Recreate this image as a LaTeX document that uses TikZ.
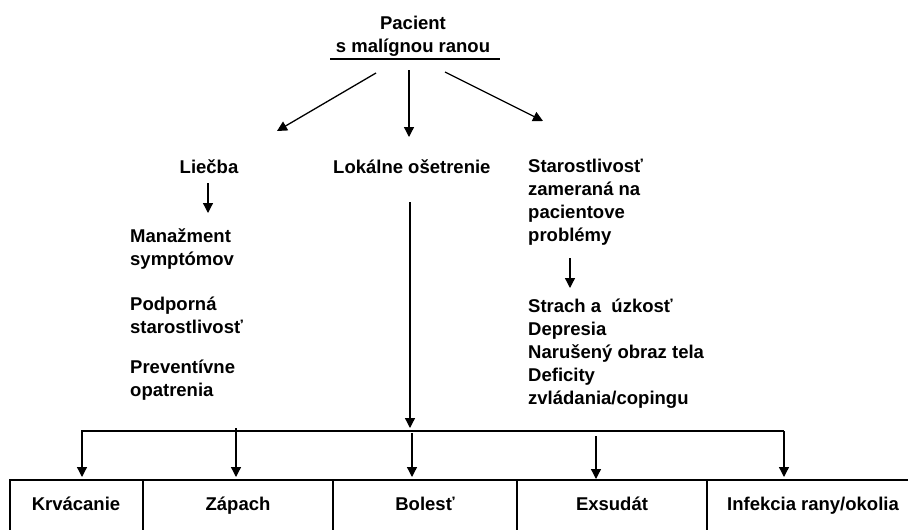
\documentclass[tikz,border=0pt]{standalone}
\usepackage{fontspec}
\setmainfont{Liberation Sans}
\usetikzlibrary{arrows.meta}
\tikzset{
  lbl/.style={inner sep=0pt, align=left, font=\bfseries\fontsize{18.5}{23}\selectfont},
  arr/.style={line width=1.3pt, -{Triangle[width=10pt,length=10pt]}},
  rule/.style={line width=1.3pt}
}
\begin{document}
\begin{tikzpicture}[x=1pt, y=-1pt]
    \useasboundingbox (0,0) rectangle (908,530);

    % patient (base = last line)
    \node[lbl, align=center, anchor=base] (pac) at (413,52) {Pacient\\s malígnou ranou};
    \coordinate (ul) at (330,59);
    \coordinate (ur) at (500,59);
    \draw[rule] (ul) -- (ur);

    % three branches
    \node[lbl, anchor=base] (liec) at (209,173) {Liečba};
    \node[lbl, anchor=base west] (lok) at (333,173) {Lokálne ošetrenie};
    \node[lbl, anchor=base west] (star) at (528,241) {Starostlivosť\\zameraná na\\pacientove\\problémy};

    \coordinate (s1) at (376,73);  \coordinate (e1) at (277,131);
    \coordinate (s2) at (409,70);  \coordinate (e2) at (409,137);
    \coordinate (s3) at (445,72);  \coordinate (e3) at (543,121);
    \draw[arr] (s1) -- (e1);
    \draw[arr] (s2) -- (e2);
    \draw[arr] (s3) -- (e3);

    % treatment
    \node[lbl, anchor=base west] (man) at (130,265) {Manažment\\symptómov};
    \node[lbl, anchor=base west] (pod) at (130,333) {Podporná\\starostlivosť};
    \node[lbl, anchor=base west] (prev) at (130,396) {Preventívne\\opatrenia};
    \coordinate (ls) at (208,183);  \coordinate (le) at (208,213);
    \draw[arr] (ls) -- (le);

    % patient problems
    \node[lbl, anchor=base west] (prob) at (528,404) {Strach a~ úzkosť\\Depresia\\Narušený obraz tela\\Deficity\\zvládania/copingu};
    \coordinate (ss) at (570,258);  \coordinate (se) at (570,288);
    \draw[arr] (ss) -- (se);

    % local care
    \coordinate (os) at (410,202);  \coordinate (oe) at (410,428);
    \draw[arr] (os) -- (oe);

    % distribution bar
    \coordinate (bl) at (82,431);
    \coordinate (br) at (784,431);
    \coordinate (t1) at (82,477);
    \coordinate (z0) at (236,428);  \coordinate (t2) at (236,477);
    \coordinate (b0) at (412,433);  \coordinate (t3) at (412,477);
    \coordinate (x0) at (596,436);  \coordinate (t4) at (596,479);
    \coordinate (t5) at (784,477);
    \draw[arr] (br) -- (bl) -- (t1);
    \draw[arr] (z0) -- (t2);
    \draw[arr] (b0) -- (t3);
    \draw[arr] (x0) -- (t4);
    \draw[arr] (br) -- (t5);

    % table of symptoms
    \draw[rule] (10,530) -- (10,480) -- (908,480);
    \foreach \cx in {143,333,517,707}
        \draw[rule] (\cx,480) -- (\cx,530);
    \node[lbl, anchor=base] (krv) at (76,510) {Krvácanie};
    \node[lbl, anchor=base] (zap) at (238,510) {Zápach};
    \node[lbl, anchor=base] (bol) at (425,510) {Bolesť};
    \node[lbl, anchor=base] (exs) at (612,510) {Exsudát};
    \node[lbl, anchor=base] (inf) at (813,510) {Infekcia rany/okolia};

\end{tikzpicture}
\end{document}
